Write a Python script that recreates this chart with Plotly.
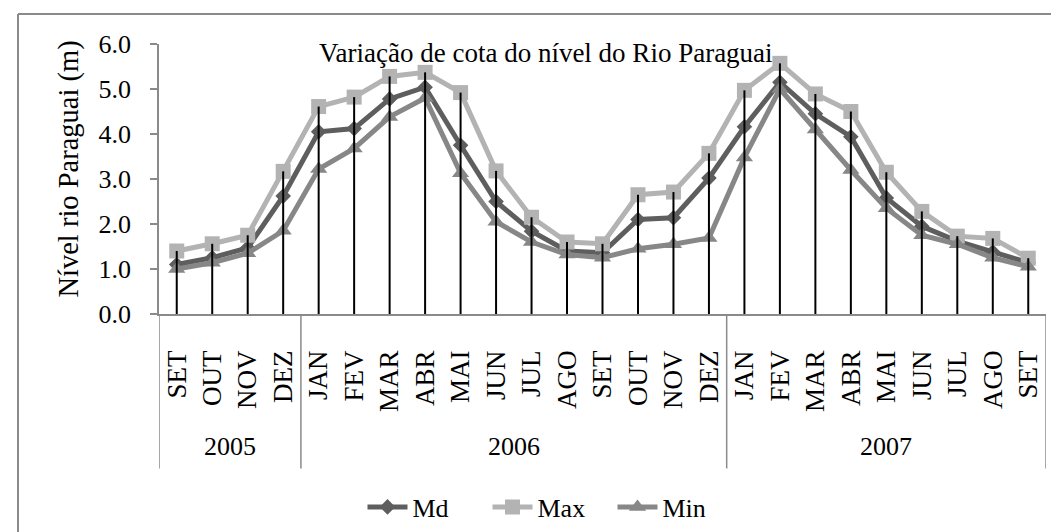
import plotly.graph_objects as go

# ---------------- data ----------------
months = ["SET", "OUT", "NOV", "DEZ",
          "JAN", "FEV", "MAR", "ABR", "MAI", "JUN", "JUL", "AGO", "SET", "OUT", "NOV", "DEZ",
          "JAN", "FEV", "MAR", "ABR", "MAI", "JUN", "JUL", "AGO", "SET"]
years = ["2005"] * 4 + ["2006"] * 12 + ["2007"] * 9

md = [1.10, 1.25, 1.47, 2.62,
      4.05, 4.12, 4.78, 5.04, 3.75, 2.50, 1.84, 1.40, 1.36, 2.10, 2.14, 3.02,
      4.16, 5.15, 4.45, 3.94, 2.58, 1.95, 1.62, 1.38, 1.14]
mx = [1.40, 1.56, 1.75, 3.17,
      4.61, 4.82, 5.28, 5.37, 4.92, 3.18, 2.15, 1.60, 1.56, 2.65, 2.71, 3.57,
      4.97, 5.57, 4.89, 4.50, 3.15, 2.28, 1.73, 1.68, 1.24]
mn = [1.00, 1.14, 1.35, 1.85,
      3.22, 3.68, 4.38, 4.80, 3.13, 2.05, 1.60, 1.32, 1.25, 1.45, 1.55, 1.69,
      3.48, 5.00, 4.10, 3.20, 2.35, 1.75, 1.55, 1.25, 1.05]

title_text = "Variação de cota do nível do Rio Paraguai"
ytitle_text = "Nível rio Paraguai (m)"

# ---------------- style ----------------
FONT = "Liberation Serif"
AXIS_GRAY = "#8a8a8a"
C_MD, C_MAX, C_MIN = "#5e5e5e", "#b3b3b3", "#878787"

W, H = 1059, 532
L, R, T, B = 151, 21, 36, 225
pw, ph = W - L - R, H - T - B


def px_x(px):
    return (px - L) / pw


def px_y(py):
    return (H - B - py) / ph


idx = list(range(len(months)))

fig = go.Figure()
fig.add_trace(go.Scatter(x=idx, y=md, name="Md", mode="lines+markers",
                         line=dict(color=C_MD, width=5),
                         marker=dict(symbol="diamond", size=12, color=C_MD)))
fig.add_trace(go.Scatter(x=idx, y=mx, name="Max", mode="lines+markers",
                         line=dict(color=C_MAX, width=5),
                         marker=dict(symbol="square", size=15, color=C_MAX)))
fig.add_trace(go.Scatter(x=idx, y=mn, name="Min", mode="lines+markers",
                         line=dict(color=C_MIN, width=5),
                         marker=dict(symbol="triangle-up", size=15, color=C_MIN)))

# drop lines from the highest series to the axis
dx, dy = [], []
for i, v in zip(idx, [max(a, b, c) for a, b, c in zip(md, mx, mn)]):
    dx += [i, i, None]
    dy += [0, v, None]
fig.add_trace(go.Scatter(x=dx, y=dy, mode="lines", showlegend=False,
                         line=dict(color="black", width=2), hoverinfo="skip"))

# year group dividers and labels
shapes = []
annotations = []
bounds = [-0.5]
for i in range(1, len(years)):
    if years[i] != years[i - 1]:
        bounds.append(i - 0.5)
bounds.append(len(years) - 0.5)
div_bottom = px_y(462)
for b in bounds:
    shapes.append(dict(type="line", xref="x", yref="paper", x0=b, x1=b,
                       y0=0, y1=div_bottom, line=dict(color=AXIS_GRAY, width=1.5)))
for a, b in zip(bounds[:-1], bounds[1:]):
    annotations.append(dict(text=years[int(a + 0.5)], xref="x", yref="paper",
                            x=(a + b) / 2, y=px_y(440), showarrow=False,
                            yanchor="middle", xanchor="center",
                            font=dict(family=FONT, size=26, color="black")))

# outer chart border (left and top visible)
shapes.append(dict(type="line", xref="paper", yref="paper",
                   x0=px_x(10), x1=px_x(10), y0=px_y(6), y1=px_y(560),
                   line=dict(color=AXIS_GRAY, width=2)))
shapes.append(dict(type="line", xref="paper", yref="paper",
                   x0=px_x(10), x1=px_x(1080), y0=px_y(6), y1=px_y(6),
                   line=dict(color=AXIS_GRAY, width=2)))

annotations.append(dict(text=title_text, xref="paper", yref="paper",
                        x=px_x(538), y=px_y(45), showarrow=False,
                        xanchor="center", yanchor="middle",
                        font=dict(family=FONT, size=27, color="black")))
annotations.append(dict(text=ytitle_text, xref="paper", yref="paper",
                        x=px_x(61), y=px_y(162), showarrow=False, textangle=-90,
                        xanchor="center", yanchor="middle",
                        font=dict(family=FONT, size=28.5, color="black")))

fig.update_layout(
    width=W, height=H,
    margin=dict(l=L, r=R, t=T, b=B, pad=0),
    paper_bgcolor="white", plot_bgcolor="white",
    font=dict(family=FONT, size=26, color="black"),
    showlegend=True,
    legend=dict(orientation="h", xanchor="center", yanchor="middle",
                x=px_x(542), y=px_y(499), font=dict(family=FONT, size=26),
                itemwidth=40, entrywidth=70, entrywidthmode="pixels",
                tracegroupgap=0, bgcolor="rgba(0,0,0,0)"),
    shapes=shapes, annotations=annotations,
    xaxis=dict(range=[-0.5, len(months) - 0.5], tickmode="array",
               tickvals=idx, ticktext=months, tickangle=-90,
               showgrid=False, zeroline=False, showline=True,
               linecolor=AXIS_GRAY, linewidth=1.5, ticks="",
               ticklabelstandoff=24,
               tickfont=dict(family=FONT, size=27, color="black")),
    yaxis=dict(range=[0, 6], tickmode="linear", tick0=0, dtick=1,
               tickformat=".1f", showgrid=False, zeroline=False,
               showline=True, linecolor=AXIS_GRAY, linewidth=1.5,
               ticks="outside", ticklen=7, tickcolor=AXIS_GRAY, tickwidth=1.5,
               ticklabelstandoff=14,
               tickfont=dict(family=FONT, size=26, color="black")),
)

fig.write_html("out.html")
